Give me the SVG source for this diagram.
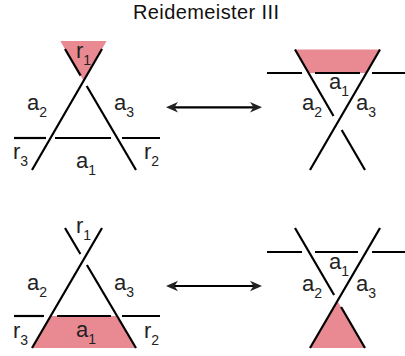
<svg xmlns="http://www.w3.org/2000/svg" xmlns:xlink="http://www.w3.org/1999/xlink" width="405" height="356" viewBox="0 0 405 356">
  <style>
    .s { stroke: #000; stroke-width: 2.2; fill: none; stroke-linecap: butt; }
    .p { fill: #E98A93; stroke: none; }
    .t { font-family: "Liberation Sans", Arial, sans-serif; font-size: 22px; fill: #222; }
    .sub { font-size: 14px; }
    .title { font-family: "Liberation Sans", Arial, sans-serif; font-size: 20px; fill: #111; }
  </style>
  <defs>
    <path id="ah" d="M0,0 L-12,-5.2 L-8.5,0 L-12,5.2 Z" fill="#222"/>
  </defs>
  <rect width="405" height="356" fill="#fff"/>
  <text class="title" x="133" y="19" textLength="146" lengthAdjust="spacing">Reidemeister III</text>

  <g id="top-left">
    <polygon class="p" points="60.3,41 106.6,41 83.6,80.7"/>
    <line class="s" x1="102" y1="49" x2="32" y2="170"/>
    <polyline class="s" points="65,49 80.6,75.6"/>
    <polyline class="s" points="86.7,86 136,170"/>
    <line class="s" x1="14" y1="138" x2="46" y2="138"/>
    <line class="s" x1="55" y1="138" x2="111" y2="138"/>
    <line class="s" x1="122" y1="138" x2="160" y2="138"/>
    <text class="t" x="76" y="58">r<tspan class="sub" dy="7">1</tspan></text>
    <text class="t" x="27" y="110">a<tspan class="sub" dy="7">2</tspan></text>
    <text class="t" x="114" y="110">a<tspan class="sub" dy="7">3</tspan></text>
    <text class="t" x="13" y="159">r<tspan class="sub" dy="7">3</tspan></text>
    <text class="t" x="76" y="168">a<tspan class="sub" dy="7">1</tspan></text>
    <text class="t" x="144" y="159">r<tspan class="sub" dy="7">2</tspan></text>
  </g>

  <g id="top-right">
    <polygon class="p" points="295,49.5 380,49.5 366.6,73 308.4,73"/>
    <line class="s" x1="380" y1="49.5" x2="310" y2="170"/>
    <line class="s" x1="295" y1="49.5" x2="333.5" y2="116"/>
    <line class="s" x1="341.7" y1="130" x2="365" y2="170"/>
    <line class="s" x1="267" y1="73" x2="302" y2="73"/>
    <line class="s" x1="315" y1="73" x2="360" y2="73"/>
    <line class="s" x1="372" y1="73" x2="405" y2="73"/>
    <text class="t" x="329" y="89">a<tspan class="sub" dy="7">1</tspan></text>
    <text class="t" x="302" y="110">a<tspan class="sub" dy="7">2</tspan></text>
    <text class="t" x="356" y="110">a<tspan class="sub" dy="7">3</tspan></text>
  </g>

  <g id="bottom-left">
    <polygon class="p" points="50.7,316 117.1,316 136,348 32,348"/>
    <line class="s" x1="102" y1="228" x2="32" y2="348"/>
    <line class="s" x1="65" y1="228" x2="80.4" y2="254"/>
    <line class="s" x1="86.9" y1="265" x2="136" y2="348"/>
    <line class="s" x1="14" y1="316" x2="44" y2="316"/>
    <line class="s" x1="57" y1="316" x2="111" y2="316"/>
    <line class="s" x1="122" y1="316" x2="160" y2="316"/>
    <text class="t" x="76" y="233">r<tspan class="sub" dy="7">1</tspan></text>
    <text class="t" x="27" y="290">a<tspan class="sub" dy="7">2</tspan></text>
    <text class="t" x="114" y="290">a<tspan class="sub" dy="7">3</tspan></text>
    <text class="t" x="13" y="338">r<tspan class="sub" dy="7">3</tspan></text>
    <text class="t" x="76" y="337">a<tspan class="sub" dy="7">1</tspan></text>
    <text class="t" x="144" y="338">r<tspan class="sub" dy="7">2</tspan></text>
  </g>

  <g id="bottom-right">
    <polygon class="p" points="337.5,300.9 365,348 310,348"/>
    <line class="s" x1="380" y1="228" x2="310" y2="348"/>
    <line class="s" x1="295" y1="228" x2="334.1" y2="295"/>
    <line class="s" x1="341.1" y1="307" x2="365" y2="348"/>
    <line class="s" x1="267" y1="252" x2="302" y2="252"/>
    <line class="s" x1="315" y1="252" x2="358" y2="252"/>
    <line class="s" x1="372" y1="252" x2="405" y2="252"/>
    <text class="t" x="329" y="269">a<tspan class="sub" dy="7">1</tspan></text>
    <text class="t" x="302" y="291">a<tspan class="sub" dy="7">2</tspan></text>
    <text class="t" x="356" y="291">a<tspan class="sub" dy="7">3</tspan></text>
  </g>

  <g id="connectors">
    <line class="s" x1="172" y1="107.3" x2="256" y2="107.3"/>
    <use xlink:href="#ah" transform="translate(262,107.3)"/>
    <use xlink:href="#ah" transform="translate(166,107.3) rotate(180)"/>
    <line class="s" x1="172" y1="286" x2="256" y2="286"/>
    <use xlink:href="#ah" transform="translate(262,286)"/>
    <use xlink:href="#ah" transform="translate(166,286) rotate(180)"/>
  </g>
</svg>
